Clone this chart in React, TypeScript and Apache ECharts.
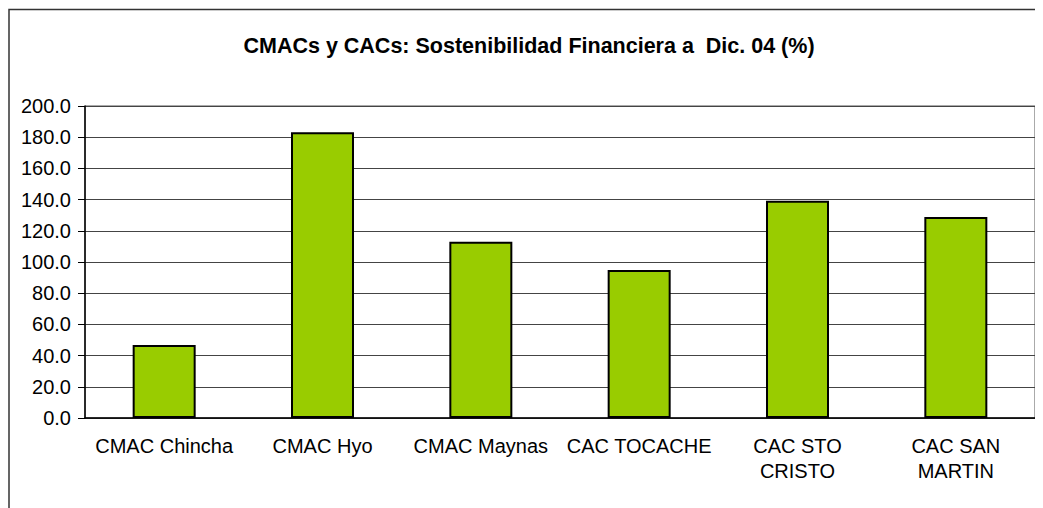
import React, { useEffect, useRef } from "react";
import * as echarts from "echarts";

const categories = ["CMAC Chincha", "CMAC Hyo", "CMAC Maynas", "CAC TOCACHE", "CAC STO\nCRISTO", "CAC SAN\nMARTIN"];
const values = [46.8, 183.2, 113.0, 94.9, 139.3, 128.8];
const titleText = "CMACs y CACs: Sostenibilidad Financiera a  Dic. 04 (%)";

export default function App() {
  const ref = useRef<HTMLDivElement>(null);
  useEffect(() => {
    const chart = echarts.init(ref.current!, null, { renderer: "svg" });
    chart.setOption({
      animation: false,
      textStyle: { fontFamily: "Liberation Sans, Arial, sans-serif" },
      title: {
        text: titleText,
        left: 516,
        top: 22,
        textAlign: "center",
        textStyle: { fontSize: 21.5, fontWeight: "bold", color: "#000", fontFamily: "Liberation Sans, Arial, sans-serif" },
      },
      graphic: [
        {
          type: "rect",
          shape: { x: 1, y: 1.5, width: 1200, height: 700 },
          style: { fill: "none", stroke: "#333", lineWidth: 1.5 },
          silent: true,
        },
      ],
      grid: { left: 77, top: 98, width: 950, height: 312, containLabel: false, show: true, borderColor: "#555", borderWidth: 1 },
      xAxis: {
        type: "category",
        data: categories,
        axisLine: { lineStyle: { color: "#000", width: 1.5 } },
        axisTick: { show: false },
        axisLabel: { color: "#000", fontSize: 20, margin: 15, lineHeight: 25, interval: 0 },
      },
      yAxis: {
        type: "value",
        min: 0,
        max: 200,
        interval: 20,
        axisLine: { show: true, lineStyle: { color: "#000", width: 1.5 } },
        axisTick: { show: true, length: 7, lineStyle: { color: "#000" } },
        axisLabel: { color: "#000", fontSize: 20, margin: 14, formatter: (v: number) => v.toFixed(1) },
        splitLine: { lineStyle: { color: "#444", width: 1 } },
      },
      series: [
        {
          type: "bar",
          data: values,
          barWidth: 63,
          itemStyle: { color: "#99CC00", borderColor: "#000", borderWidth: 2 },
        },
      ],
    });
    return () => chart.dispose();
  }, []);
  return <div ref={ref} style={{ width: 1035, height: 500 }} />;
}
